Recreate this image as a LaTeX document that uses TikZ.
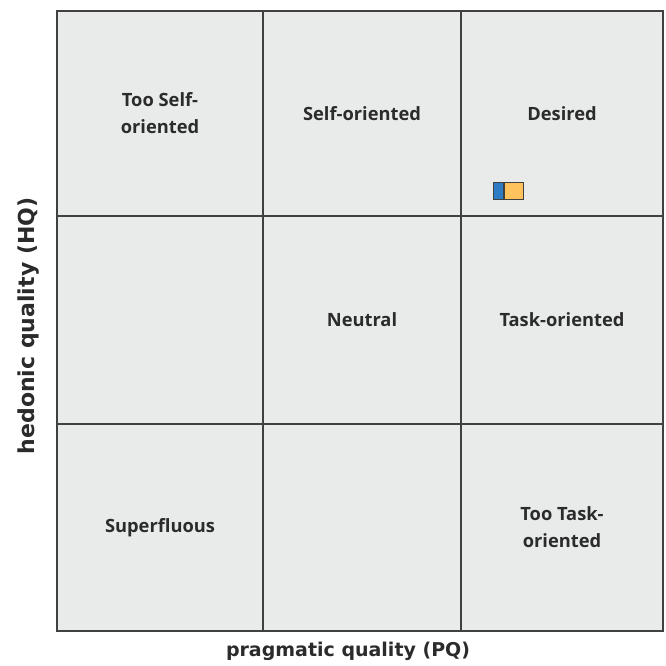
\documentclass[tikz,border=0pt]{standalone}
\usepackage{fontspec}
\setmainfont{Open Sans}
\newfontfamily\axisfont{DejaVu Sans}
\usetikzlibrary{positioning}
\definecolor{cellgray}{HTML}{E9EBEB}
\definecolor{gridline}{HTML}{404040}
\definecolor{textgray}{HTML}{2B2B2B}
\definecolor{pqblue}{HTML}{2F7BC4}
\definecolor{hqorange}{HTML}{FFC35E}

\begin{document}
\begin{tikzpicture}[x=1pt,y=-1pt,
cell/.style={rectangle, draw=gridline, fill=cellgray, line width=2pt, inner sep=0pt, outer sep=0pt, align=center, text=textgray, font=\bfseries\fontsize{18.3}{27}\selectfont},
axislabel/.style={text=textgray, font=\axisfont\bfseries},
markbox/.style={rectangle, draw=gridline, line width=1pt, inner sep=0pt, minimum height=17pt},
]
\useasboundingbox (0,0) rectangle (666,666);
%%% first row
\node[cell, minimum width=206pt, minimum height=205pt] (tooself) at (160,113.5) {Too Self-\\oriented};
\node[cell, minimum width=198pt, minimum height=205pt] (self) at (362,113.5) {Self-oriented};
\node[cell, minimum width=202pt, minimum height=205pt] (desired) at (562,113.5) {Desired};
%%% second row
\node[cell, minimum width=206pt, minimum height=208pt] (midleft) at (160,320) {};
\node[cell, minimum width=198pt, minimum height=208pt] (neutral) at (362,320) {Neutral};
\node[cell, minimum width=202pt, minimum height=208pt] (task) at (562,320) {Task-oriented};
%%% third row
\node[cell, minimum width=206pt, minimum height=207pt] (superfluous) at (160,527.5) {Superfluous};
\node[cell, minimum width=198pt, minimum height=207pt] (lowmid) at (362,527.5) {};
\node[cell, minimum width=202pt, minimum height=207pt] (tootask) at (562,527.5) {Too Task-\\oriented};
%%
%% result marker
\node[markbox, fill=pqblue, minimum width=10pt] (pq) at (498,190.5) {};
\node[markbox, fill=hqorange, minimum width=19pt, right=0pt of pq] (hq) {};
%%
%% axes
\node[axislabel, font=\axisfont\bfseries\fontsize{19}{21}\selectfont] (pqaxis) at (348,651) {pragmatic quality (PQ)};
\node[axislabel, font=\axisfont\bfseries\fontsize{22}{24}\selectfont, rotate=90] (hqaxis) at (29,326) {hedonic quality (HQ)};
\end{tikzpicture}
\end{document}
